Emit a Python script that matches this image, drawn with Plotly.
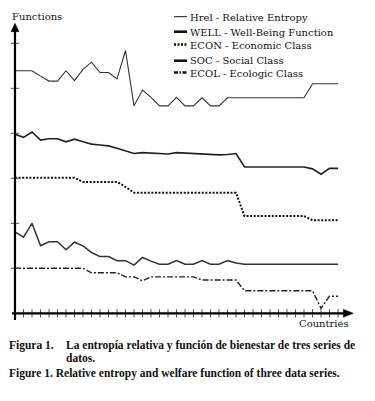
import plotly.graph_objects as go

# ---- data ----
countries = list(range(1, 40))

hrel = [5.39, 5.39, 5.39, 5.27, 5.16, 5.16, 5.39, 5.17, 5.42, 5.58,
        5.35, 5.35, 5.21, 5.84, 4.61, 4.96, 4.80, 4.61, 4.61, 4.80,
        4.61, 4.61, 4.79, 4.61, 4.61, 4.79, 4.79, 4.79, 4.79, 4.79,
        4.79, 4.79, 4.79, 4.79, 4.79, 5.10, 5.10, 5.10, 5.10]

well = [3.98, 3.91, 4.03, 3.85, 3.88, 3.88, 3.81, 3.87, 3.81, 3.76,
        3.74, 3.72, 3.67, 3.61, 3.55, 3.57, 3.56, 3.54, 3.54, 3.57,
        3.56, 3.55, 3.54, 3.53, 3.52, 3.53, 3.55, 3.25, 3.25, 3.25,
        3.25, 3.25, 3.25, 3.25, 3.25, 3.21, 3.09, 3.22, 3.22]

econ = [3.01, 3.01, 3.01, 3.01, 3.01, 3.01, 3.01, 3.01, 2.92, 2.92,
        2.92, 2.92, 2.92, 2.81, 2.68, 2.68, 2.68, 2.68, 2.68, 2.68,
        2.68, 2.68, 2.68, 2.68, 2.68, 2.68, 2.68, 2.16, 2.16, 2.16,
        2.16, 2.16, 2.16, 2.16, 2.16, 2.07, 2.07, 2.07, 2.07]

soc = [1.81, 1.69, 2.00, 1.50, 1.59, 1.59, 1.41, 1.58, 1.50, 1.35,
       1.26, 1.26, 1.17, 1.17, 1.07, 1.24, 1.16, 1.09, 1.09, 1.17,
       1.09, 1.09, 1.17, 1.09, 1.09, 1.17, 1.12, 1.09, 1.09, 1.09,
       1.09, 1.09, 1.09, 1.09, 1.09, 1.09, 1.09, 1.09, 1.09]

ecol = [1.00, 1.00, 1.00, 1.00, 1.00, 1.00, 1.00, 1.00, 1.00, 0.90,
        0.90, 0.90, 0.90, 0.81, 0.81, 0.72, 0.81, 0.81, 0.81, 0.81,
        0.81, 0.81, 0.74, 0.74, 0.74, 0.74, 0.74, 0.50, 0.50, 0.50,
        0.50, 0.50, 0.50, 0.50, 0.50, 0.50, 0.11, 0.38, 0.38]

legend_labels = ["Hrel - Relative Entropy", "WELL - Well-Being Function",
                 "ECON - Economic Class", "SOC - Social Class",
                 "ECOL - Ecologic Class"]
y_ticks = [1, 2, 3, 4, 5, 6]

# ---- geometry helpers (pixel layout of the 375x401 figure) ----
W, H = 375, 401
X0_PX, DX_PX = 15.0, 8.5     # pixel of country 1, pixels per country
Y0_PX, DY_PX = 313.3, 45.0   # pixel of value 0, pixels per unit


def px(x):
    return x / W


def py(y):
    return 1 - y / H


def cx(p):   # pixel x -> data x
    return 1 + (p - X0_PX) / DX_PX


def vy(p):   # pixel y -> data y
    return (Y0_PX - p) / DY_PX


styles = [
    dict(color="#333333", width=1.1, dash="solid"),
    dict(color="#222222", width=1.6, dash="solid"),
    dict(color="#111111", width=2.0, dash="2px,1.6px"),
    dict(color="#333333", width=1.5, dash="solid"),
    dict(color="#222222", width=1.4, dash="6px,2px,2px,2px"),
]
series = [hrel, well, econ, soc, ecol]

fig = go.Figure()
for vals, st, name in zip(series, styles, legend_labels):
    fig.add_trace(go.Scatter(x=countries, y=vals, mode="lines", name=name,
                             line=st, hoverinfo="skip"))

# tick marks along axes
fig.add_trace(go.Scatter(x=countries[1:], y=[0] * (len(countries) - 1),
                         mode="markers",
                         marker=dict(symbol="line-ns", size=6,
                                     line=dict(width=1, color="#555555")),
                         hoverinfo="skip"))
fig.add_trace(go.Scatter(x=[countries[0]] * len(y_ticks), y=y_ticks,
                         mode="markers",
                         marker=dict(symbol="line-ew", size=6,
                                     line=dict(width=1, color="#555555")),
                         hoverinfo="skip"))

shapes = []
# axis lines
shapes.append(dict(type="line", xref="x", yref="y", x0=1, x1=1,
                   y0=vy(320), y1=vy(30), line=dict(color="black", width=2.2)))
shapes.append(dict(type="line", xref="x", yref="y", x0=cx(12), x1=cx(345),
                   y0=0, y1=0, line=dict(color="black", width=2.2)))
# arrowheads
hw = 4.0 / DX_PX
shapes.append(dict(type="path", xref="x", yref="y",
                   path=f"M {1-hw},{vy(31.7)} L {1+hw},{vy(31.7)} L 1,{vy(23.3)} Z",
                   fillcolor="black", line=dict(color="black", width=0.5)))
hh = 4.0 / DY_PX
shapes.append(dict(type="path", xref="x", yref="y",
                   path=f"M {cx(343.3)},{-hh} L {cx(343.3)},{hh} L {cx(353.3)},0 Z",
                   fillcolor="black", line=dict(color="black", width=0.5)))

# manual legend samples
leg_y = [16.7, 31.7, 44.5, 60.7, 72.5]
leg_w = [1.0, 2.6, 2.4, 2.6, 2.4]
leg_dash = ["solid", "solid", "2px,1.5px", "solid", "4px,1.5px,1.5px,1.5px"]
for yy, ww, dd in zip(leg_y, leg_w, leg_dash):
    shapes.append(dict(type="line", xref="paper", yref="paper",
                       x0=px(174), x1=px(187), y0=py(yy), y1=py(yy),
                       line=dict(color="#111111", width=ww, dash=dd)))

annots = []
lab_font = dict(family="DejaVu Serif", size=10, color="#111111")
leg_text_y = [17.3, 32.3, 45.0, 61.0, 73.3]
for yy, lab in zip(leg_text_y, legend_labels):
    annots.append(dict(xref="paper", yref="paper", x=px(188), y=py(yy),
                       xanchor="left", yanchor="middle", showarrow=False,
                       text=lab, font=lab_font))
annots.append(dict(xref="paper", yref="paper", x=px(10), y=py(16.7),
                   xanchor="left", yanchor="middle", showarrow=False,
                   text="Functions", font=lab_font))
annots.append(dict(xref="paper", yref="paper", x=px(297), y=py(323.3),
                   xanchor="left", yanchor="middle", showarrow=False,
                   text="Countries", font=lab_font))

cap_font = dict(family="Liberation Serif", size=11.5, color="#111111",
                weight="bold")
annots.append(dict(xref="paper", yref="paper", x=px(7), y=py(345),
                   xanchor="left", yanchor="middle", showarrow=False,
                   text="Figura 1.", font=cap_font))
annots.append(dict(xref="paper", yref="paper", x=px(64), y=py(345),
                   xanchor="left", yanchor="middle", showarrow=False,
                   text="La entropía relativa y función de bienestar de tres series de",
                   font=cap_font))
annots.append(dict(xref="paper", yref="paper", x=px(64), y=py(358.3),
                   xanchor="left", yanchor="middle", showarrow=False,
                   text="datos.", font=cap_font))
annots.append(dict(xref="paper", yref="paper", x=px(7), y=py(373.3),
                   xanchor="left", yanchor="middle", showarrow=False,
                   text="Figure 1. Relative entropy and welfare function of three data series.",
                   font=cap_font))

fig.update_layout(
    width=W, height=H,
    margin=dict(l=0, r=0, t=0, b=0),
    paper_bgcolor="white", plot_bgcolor="white",
    showlegend=False,
    xaxis=dict(range=[cx(0), cx(W)], visible=False, fixedrange=True),
    yaxis=dict(range=[vy(H), vy(0)], visible=False, fixedrange=True),
    shapes=shapes,
    annotations=annots,
)

fig.write_html("out.html", config={"displayModeBar": False},
               post_script="document.body.style.margin='0';document.body.style.overflow='hidden';")
